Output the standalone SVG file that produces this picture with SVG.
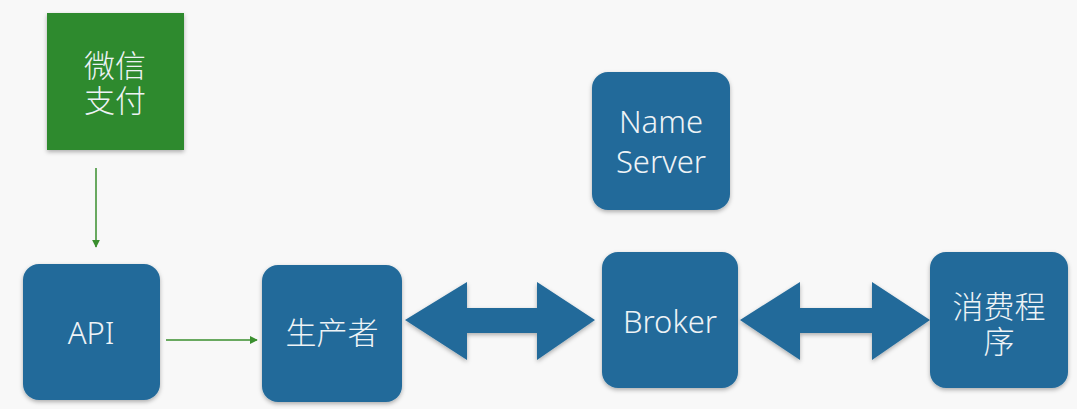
<svg xmlns="http://www.w3.org/2000/svg" width="1077" height="409" viewBox="0 0 1077 409">
  <defs>
    <filter id="sh" x="-10%" y="-10%" width="120%" height="125%">
      <feDropShadow dx="0" dy="2" stdDeviation="2" flood-color="#000" flood-opacity="0.3"/>
    </filter>
    <marker id="ga" viewBox="0 0 10 10" refX="9" refY="5" markerWidth="8" markerHeight="8" markerUnits="userSpaceOnUse" orient="auto">
      <path d="M0,0 L10,5 L0,10 Z" fill="#3a8f2e"/>
    </marker>
  </defs>
  <style>
    .blue { fill: #236a9a; filter: url(#sh); }
    .green { fill: #2f8a2f; filter: url(#sh); }
    .t { fill: #eef3f6; font-family: "Noto Sans", "Noto Sans CJK SC", sans-serif; font-weight: 300; text-anchor: middle; }
    .en { font-size: 31px; }
    .zh { font-size: 31px; }
    .gl { stroke: #3a8f2e; stroke-width: 1.5; fill: none; marker-end: url(#ga); }
    .dbl { fill: #236a9a; filter: url(#sh); }
  </style>
  <rect width="1077" height="409" fill="#f8f8f8"/>

  <g id="connectors">
    <line class="gl" x1="96" y1="168" x2="96" y2="247"/>
    <line class="gl" x1="166" y1="340" x2="257" y2="340"/>
    <path class="dbl" d="M405,320 L467,282 L467,308 L537,308 L537,282 L595,320 L537,360 L537,333 L467,333 L467,360 Z"/>
    <path class="dbl" d="M740,320 L800,282 L800,308 L872,308 L872,282 L930,320 L872,360 L872,333 L800,333 L800,360 Z"/>
  </g>

  <g id="wechat">
    <rect class="green" x="47" y="13" width="137" height="137"/>
    <text class="t zh"><tspan x="115" y="77">微信</tspan><tspan x="115" y="112">支付</tspan></text>
  </g>

  <g id="api">
    <rect class="blue" x="23" y="264" width="137" height="136" rx="16"/>
    <text class="t en" x="91" y="344">API</text>
  </g>

  <g id="producer">
    <rect class="blue" x="262" y="265" width="140" height="137" rx="16"/>
    <text class="t zh" x="332" y="344">生产者</text>
  </g>

  <g id="nameserver">
    <rect class="blue" x="592" y="72" width="138" height="138" rx="16"/>
    <text class="t en"><tspan x="661" y="133">Name</tspan><tspan x="661" y="173">Server</tspan></text>
  </g>

  <g id="broker">
    <rect class="blue" x="602" y="252" width="136" height="136" rx="16"/>
    <text class="t en" x="670" y="333">Broker</text>
  </g>

  <g id="consumer">
    <rect class="blue" x="930" y="252" width="138" height="136" rx="16"/>
    <text class="t zh"><tspan x="999" y="318">消费程</tspan><tspan x="999" y="353">序</tspan></text>
  </g>
</svg>
